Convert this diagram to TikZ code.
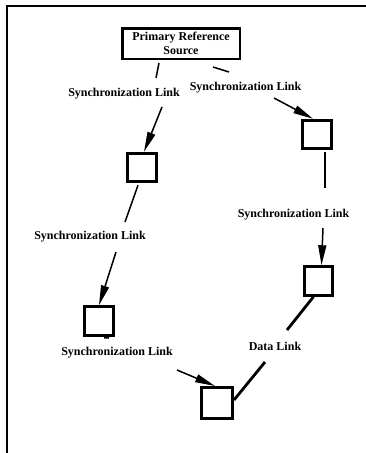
\documentclass[tikz,border=0pt]{standalone}
\usepackage{fontspec}
\setmainfont{Liberation Serif}
\usetikzlibrary{arrows.meta,calc}
\begin{document}
\begin{tikzpicture}[x=1pt,y=-1pt,
  lbl/.style={font=\fontsize{12}{14}\selectfont\bfseries, inner sep=0pt, align=center},
  sq/.style={draw, line width=3pt, minimum size=28.5pt, inner sep=0pt},
  srcbox/.style={draw, line width=2.5pt, minimum width=117.5pt, minimum height=30.5pt, inner sep=0pt, align=center, font=\fontsize{12}{14}\selectfont\bfseries},
  link/.style={line width=1.5pt},
  arr/.style={line width=1.5pt, -{Triangle[length=20pt,width=8pt]}},
  datalink/.style={line width=2.8pt}]
\useasboundingbox (0,0) rectangle (366,453);
% frame
\draw[line width=1.5pt] (7,453) -- (7,6) -- (366,6);
% nodes
\node[srcbox] (box) at (181,43.5) {Primary Reference\\Source};
\node[sq] (sqL1) at (142,167.5) {};
\node[sq] (sqR1) at (317,134.5) {};
\node[sq] (sqL2) at (99,321) {};
\node[sq] (sqR2) at (318.5,281) {};
\node[sq, minimum size=31pt] (sqB) at (217,403) {};
% labels
\node[lbl] (L1) at (124,94) {Synchronization Link};
\node[lbl] (R1) at (245.5,88) {Synchronization Link};
\node[lbl] (L2) at (90,237) {Synchronization Link};
\node[lbl] (R2) at (293.5,215) {Synchronization Link};
\node[lbl] (D) at (275,346) {Data Link};
\node[lbl] (L3) at (117,353) {Synchronization Link};
% link 1
\draw[link] ([xshift=-22pt,yshift=-3pt]box.south) -- ($(L1)+(32,-16)$);
\draw[arr] ($(L1)+(38,13)$) -- ([xshift=2pt]sqL1.north);
% link 2
\draw[link] ([xshift=32pt,yshift=-7pt]box.south) -- ($(R1)+(-16.5,-16)$);
\draw[arr] ($(R1)+(28.5,10)$) -- ([xshift=-4pt]sqR1.north);
% link 3
\draw[link] ([xshift=-4pt,yshift=-2pt]sqL1.south) -- ($(L2)+(35,-15)$);
\draw[arr] ($(L2)+(26,15)$) -- (sqL2.north);
% link 4
\draw[link] ([xshift=8pt,yshift=-1.5pt]sqR1.south) -- ($(R2)+(31.5,-27)$);
\draw[arr] ($(R2)+(29.5,13)$) -- ([xshift=3pt]sqR2.north);
% data link
\draw[datalink] ([xshift=-5pt]sqR2.south) -- ($(D)+(12,-16)$);
\draw[datalink] ($(D)+(-10,16)$) -- ([yshift=3pt]sqB.east);
% link 6
\draw[link] ([xshift=5pt,yshift=-1pt]sqL2.south) -- ($(L3)+(-8,-15)$);
\draw[arr] ($(L3)+(60,17)$) -- ([xshift=-2pt]sqB.north);
\end{tikzpicture}
\end{document}
